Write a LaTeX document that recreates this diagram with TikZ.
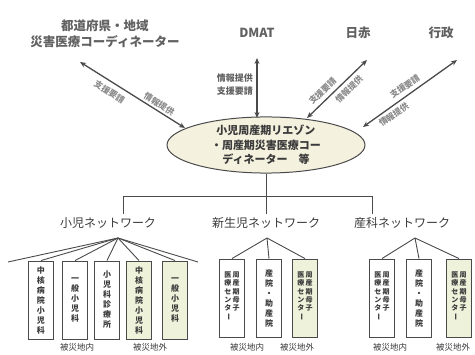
\documentclass[tikz,border=0pt]{standalone}
\usepackage{fontspec}
\setmainfont{Noto Sans CJK JP}
\usepackage{graphicx}
\usetikzlibrary{arrows.meta,shapes.geometric,calc}
\definecolor{ln}{HTML}{4A4A4A}
\definecolor{tx}{HTML}{3A3A3A}
\definecolor{lt}{HTML}{8A8A8A}
\definecolor{grn}{HTML}{EEF2DA}
\definecolor{cream}{HTML}{F5F1DF}
\newcommand\vbar{\rotatebox[origin=c]{-90}{ー}}
\begin{document}
\begin{tikzpicture}[x=1pt,y=-1pt,
  toplbl/.style={font=\fontsize{12.5}{16}\selectfont\bfseries, text=tx!80, align=center},
  arr/.style={draw=ln, line width=1.3pt, {Stealth[length=6pt,width=5pt]}-{Stealth[length=6pt,width=5pt]}},
  albl/.style={font=\fontsize{8.5}{10}\selectfont\bfseries, text=lt, inner sep=1pt},
  dlbl/.style={font=\fontsize{9}{11}\selectfont\bfseries, text=tx!80, anchor=east, inner sep=1pt},
  ell/.style={ellipse, draw=ln, line width=1pt, fill=cream, minimum width=198pt, minimum height=54pt, inner sep=0pt, align=center, font=\fontsize{11}{14.5}\selectfont\bfseries, text=tx},
  netlbl/.style={font=\fontsize{12}{14}\selectfont, text=tx},
  boxw/.style={draw=ln, line width=0.9pt, minimum width=25pt, minimum height=78pt, inner sep=0pt, fill=white, align=center, font=\fontsize{8}{10}\selectfont\bfseries, text=tx},
  boxg/.style={boxw, fill=grn},
  tree/.style={draw=ln, line width=0.9pt},
  sub/.style={font=\fontsize{8.5}{10}\selectfont, text=tx}]
\useasboundingbox (0,0) rectangle (475,355);

% top labels
\node[toplbl] (pref) at (105,34) {都道府県・地域\\災害医療コーディネーター};
\node[toplbl] (dmat) at (257,33) {DMAT};
\node[toplbl] (jrc) at (358,33) {日赤};
\node[toplbl] (gov) at (441,33) {行政};

% central ellipse
\node[ell] (ell) at (266,145) {小児周産期リエゾン\\・周産期災害医療コー\\ディネーター　等};

% arrows
\coordinate (a1e) at (80,62);  \coordinate (a1s) at (185,128);
\coordinate (a2e) at (257,58); \coordinate (a2s) at (257,118);
\coordinate (a3e) at (367,60); \coordinate (a3s) at (307,118);
\coordinate (a4e) at (457,60); \coordinate (a4s) at (363,127);

\draw[arr] (a1e) -- node[pos=.72, sloped, above=1pt, albl] (l1a) {情報提供}
                    node[pos=.33, sloped, below=4pt, albl] (l1b) {支援要請} (a1s);
\draw[arr] (a2s) -- (a2e);
\node[dlbl] (l2a) at (254,78) {情報提供};
\node[dlbl] (l2b) at (254,91) {支援要請};
\draw[arr] (a3s) -- node[pos=.36, sloped, above=3pt, albl] (l3a) {支援要請}
                    node[pos=.6, sloped, below=3pt, albl] (l3b) {情報提供} (a3e);
\draw[arr] (a4s) -- node[pos=.5, sloped, above=3pt, albl] (l4a) {支援要請}
                    node[pos=.28, sloped, below=2pt, albl] (l4b) {情報提供} (a4e);

% network labels
\node[netlbl] (n1) at (108,223) {小児ネットワーク};
\node[netlbl] (n2) at (266,223) {新生児ネットワーク};
\node[netlbl] (n3) at (402,223) {産科ネットワーク};

% tree
\coordinate (j1) at (123,196);
\coordinate (j2) at (266,196);
\coordinate (j3) at (372,196);
\draw[tree] (ell.south) -- (j2);
\draw[tree] (j1) -- (j3);
\draw[tree] (j1) -- (j1 |- n1.north);
\draw[tree] (j2) -- (j2 |- n2.north);
\draw[tree] (j3) -- (j3 |- n3.north);

% boxes: pediatric
\node[boxw] (p1) at (41,300) {中\\核\\病\\院\\小\\児\\科};
\node[boxw] (p2) at (75,300) {一\\般\\小\\児\\科};
\node[boxw] (p3) at (107,300) {小\\児\\科\\診\\療\\所};
\node[boxg] (p4) at (139,300) {中\\核\\病\\院\\小\\児\\科};
\node[boxg] (p5) at (175,300) {一\\般\\小\\児\\科};

\coordinate (ap1) at (118,238);
\coordinate (r1l) at (8,262);
\coordinate (r1r) at (198,262);
\draw[tree] (r1l) -- (ap1) -- (r1r);
\foreach \b in {p1,p2,p3,p4,p5} \draw[tree] (ap1) -- (\b.north);

\node[sub] (s1a) at (77,347) {被災地内};
\node[sub] (s1b) at (150,347) {被災地外};

% boxes: neonatal
\newcommand\twocol{\fontsize{7}{8.3}\selectfont\begin{tabular}{@{}c@{\hspace{1.5pt}}c@{}}医&周\\療&産\\セ&期\\ン&母\\タ&子\\\vbar&\\[3pt]\end{tabular}}
\node[boxw] (q1) at (232,298) {\twocol};
\node[boxw] (q2) at (269,298) {産\\院\\・\\助\\産\\院};
\node[boxg] (q3) at (305,298) {\twocol};
\coordinate (ap2) at (267,238);
\foreach \b in {q1,q2,q3} \draw[tree] (ap2) -- (\b.north);
\node[sub] (s2a) at (247,347) {被災地内};
\node[sub] (s2b) at (297,347) {被災地外};

% boxes: obstetric
\node[boxw] (o1) at (382,298) {\twocol};
\node[boxw] (o2) at (419,298) {産\\院\\・\\助\\産\\院};
\node[boxg] (o3) at (459,298) {\twocol};
\coordinate (ap3) at (415,238);
\foreach \b in {o1,o2,o3} \draw[tree] (ap3) -- (\b.north);
\node[sub] (s3a) at (390,347) {被災地内};
\node[sub] (s3b) at (453,347) {被災地外};
\end{tikzpicture}
\end{document}
